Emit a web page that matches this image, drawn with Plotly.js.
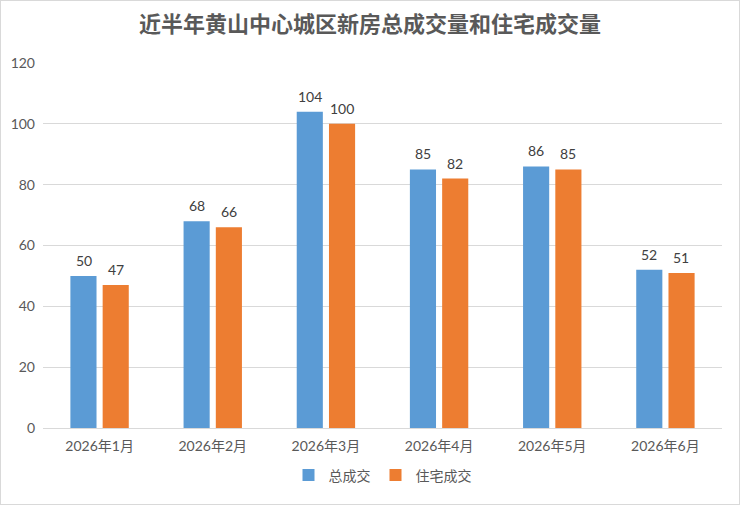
<!DOCTYPE html>
<html>
<head>
<meta charset="utf-8">
<script src="https://cdn.plot.ly/plotly-3.0.1.min.js"></script>
<style>
  html, body { margin: 0; padding: 0; background: #fff; }
  #chart { width: 740px; height: 505px; box-sizing: border-box; border: 1px solid #d9d9d9; }
</style>
</head>
<body>
<div id="chart"></div>
<script>
// months and the two series
const months = ['2026年1月', '2026年2月', '2026年3月', '2026年4月', '2026年5月', '2026年6月'];
const totalDeals = [50, 68, 104, 85, 86, 52];
const homeDeals = [47, 66, 100, 82, 85, 51];
const yTicks = [0, 20, 40, 60, 80, 100, 120];

const fontFamily = 'Lato, "Noto Sans CJK SC", sans-serif';

let trace1 = {
    x: months,
    y: totalDeals,
    type: 'bar',
    name: '总成交',
    marker: { color: '#5B9BD5' }
};

let trace2 = {
    x: months,
    y: homeDeals,
    type: 'bar',
    name: '住宅成交',
    marker: { color: '#ED7D31' }
};

// value labels sit a little above each bar, shifted onto its slot in the group
function valueLabels(values, shift) {
    return values.map((v, i) => ({
        x: months[i],
        y: v,
        xref: 'x',
        yref: 'y',
        text: String(v),
        showarrow: false,
        yanchor: 'bottom',
        xshift: shift,
        yshift: 5,
        font: { size: 14, color: '#404040', family: fontFamily }
    }));
}

let layout = {
    width: 738,
    height: 503,
    margin: { l: 42, r: 17, t: 62, b: 68 },
    paper_bgcolor: '#ffffff',
    plot_bgcolor: '#ffffff',
    font: { family: fontFamily, color: '#595959', size: 14 },
    title: {
        text: '<b>近半年黄山中心城区新房总成交量和住宅成交量</b>',
        font: { family: '"Noto Sans CJK SC", sans-serif', size: 22, color: '#595959' },
        x: 0.5,
        y: 0.953,
        yanchor: 'middle'
    },
    barmode: 'group',
    bargap: 0.43,
    bargroupgap: 0.19,
    xaxis: {
        showgrid: false,
        showline: true,
        linecolor: '#d9d9d9',
        ticks: '',
        ticklabelstandoff: 5,
        tickfont: { size: 14, color: '#595959' }
    },
    yaxis: {
        range: [0, 120],
        tickvals: yTicks,
        gridcolor: '#d9d9d9',
        zeroline: false,
        showline: false,
        ticks: '',
        ticklabelstandoff: 7,
        tickfont: { size: 14, color: '#595959' }
    },
    legend: {
        orientation: 'h',
        x: 0.5,
        xanchor: 'center',
        y: -0.13,
        yanchor: 'middle',
        font: { size: 14, color: '#595959' },
        itemwidth: 30
    },
    annotations: valueLabels(totalDeals, -16).concat(valueLabels(homeDeals, 16)),
    showlegend: true
};

Plotly.newPlot('chart', [trace1, trace2], layout, { displayModeBar: false, staticPlot: true });
</script>
</body>
</html>
